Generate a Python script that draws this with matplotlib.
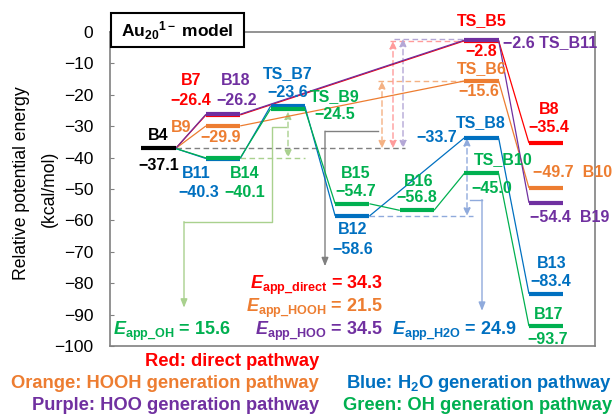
import matplotlib
matplotlib.use("Agg")
import matplotlib.pyplot as plt
from matplotlib.patches import Rectangle

plt.rcParams['font.family'] = ['Liberation Sans', 'DejaVu Sans']
plt.rcParams['mathtext.fontset'] = 'custom'
plt.rcParams['mathtext.rm'] = 'Liberation Sans'
plt.rcParams['mathtext.it'] = 'Liberation Sans:italic'
plt.rcParams['mathtext.bf'] = 'Liberation Sans:bold'
plt.rcParams['mathtext.bfit'] = 'Liberation Sans:bold:italic'

# ---------------- data ----------------
red_names = ['B4', 'B7', 'TS_B5', 'B8']
red_cols = [0, 1, 5, 6]
red_E = [-37.1, -26.4, -2.8, -35.4]

orange_names = ['B4', 'B9', 'TS_B6', 'B10']
orange_cols = [0, 1, 5, 6]
orange_E = [-37.1, -29.9, -15.6, -49.7]

purple_names = ['B4', 'B18', 'TS_B11', 'B19']
purple_cols = [0, 1, 5, 6]
purple_E = [-37.1, -26.2, -2.6, -54.4]

blue_names = ['B4', 'B11', 'TS_B7', 'B12', 'TS_B8', 'B13']
blue_cols = [0, 1, 2, 3, 5, 6]
blue_E = [-37.1, -40.3, -23.6, -58.6, -33.7, -83.4]

green_names = ['B4', 'B14', 'TS_B9', 'B15', 'B16', 'TS_B10', 'B17']
green_cols = [0, 1, 2, 3, 4, 5, 6]
green_E = [-37.1, -40.1, -24.5, -54.7, -56.8, -45.0, -93.7]

yticks = [0, -10, -20, -30, -40, -50, -60, -70, -80, -90, -100]

RED, ORANGE, PURPLE = '#FF0000', '#ED7D31', '#7030A0'
BLUE, GREEN = '#0070C0', '#00B050'
L_RED, L_ORANGE, L_PURPLE = '#FF9B9B', '#F4B183', '#B4A7D6'
L_BLUE, L_GREEN, GRAY = '#8FAADC', '#A9D18E', '#808080'

# ---------------- figure ----------------
W, H = 615, 416
fig = plt.figure(figsize=(W / 100, H / 100), dpi=100)
ax_l, ax_r, ax_t, ax_b = 110, 595, 32, 346
ax = fig.add_axes([ax_l / W, 1 - ax_b / H, (ax_r - ax_l) / W, (ax_b - ax_t) / H])

c0, dc = 158.5, 64.6
ax.set_xlim((ax_l - c0) / dc, (ax_r - c0) / dc)
ax.set_ylim(-100, 0)
hw = 0.265


def px(xp):
    return (xp - c0) / dc


LW_LEVEL, LW_LINK = 3.0, 0.9


def draw_path(cols, E, color, z):
    for i in range(len(cols)):
        if i > 0:
            ax.plot([cols[i - 1] + hw, cols[i] - hw], [E[i - 1], E[i]],
                    color=color, lw=LW_LINK, zorder=z, solid_capstyle='butt')
            ax.plot([cols[i] - hw, cols[i] + hw], [E[i], E[i]],
                    color=color, lw=LW_LEVEL, zorder=z + 0.5, solid_capstyle='butt')


def hdash(x0, x1, y, color):
    ax.plot([x0, x1], [y, y], color=color, lw=1.0, ls=(0, (4, 2.5)), zorder=1)


def vdarrow(x, y0, y1, color):
    ax.annotate('', xy=(x, y1), xytext=(x, y0),
                arrowprops=dict(arrowstyle='<|-|>,head_length=0.45,head_width=0.2',
                                color=color, lw=1.0, ls=(0, (4, 2.5)),
                                shrinkA=0, shrinkB=0), zorder=1)


def elbow(pts, color):
    xs = [p[0] for p in pts]
    ys = [p[1] for p in pts]
    ax.plot(xs[:-1], ys[:-1], color=color, lw=1.0, zorder=1)
    ax.annotate('', xy=pts[-1], xytext=pts[-2],
                arrowprops=dict(arrowstyle='-|>,head_length=0.5,head_width=0.2',
                                color=color, lw=1.0, shrinkA=0, shrinkB=0), zorder=1)


B4 = red_E[0]
hdash(hw, px(405), B4, GRAY)
# OH
hdash(1 + hw, px(305), green_E[1], L_GREEN)
vdarrow(px(288), green_E[2] - 0.8, green_E[1], L_GREEN)
# HOOH
hdash(px(378), 5 - hw, orange_E[2], L_ORANGE)
vdarrow(px(382), orange_E[2], B4, L_ORANGE)
# direct
hdash(px(390), 5 - hw, red_E[2], L_RED)
vdarrow(px(393), red_E[2], B4, L_RED)
# HOO
hdash(px(394), 5 - hw, purple_E[2] + 0.5, L_PURPLE)
vdarrow(px(403), purple_E[2] + 0.5, B4, L_PURPLE)
# H2O
hdash(3 + hw, px(473), blue_E[3], L_BLUE)
vdarrow(px(467), blue_E[4], blue_E[3], L_BLUE)

# elbow connectors to E_app labels
elbow([(px(286), -30.4), (px(272), -30.4), (px(272), -60.4), (px(184), -60.4), (px(184), -87.8)], L_GREEN)
elbow([(px(378), -31.6), (px(325), -31.6), (px(325), -74.6)], GRAY)
elbow([(px(470), -53.4), (px(482), -53.4), (px(482), -88.8)], L_BLUE)

# pathways
draw_path(red_cols, red_E, RED, 2)
draw_path(orange_cols, orange_E, ORANGE, 3)
draw_path(blue_cols, blue_E, BLUE, 4)
draw_path(green_cols, green_E, GREEN, 5)
draw_path(purple_cols, purple_E, PURPLE, 6)
ax.plot([-hw, hw], [B4, B4], color='black', lw=LW_LEVEL, zorder=7, solid_capstyle='butt')

# ---------------- labels ----------------
FS = 11.5


def lab(col, E, txt, color, dx, dy, ha='center'):
    ax.annotate(txt, (col, E), xytext=(dx * 0.72, -dy * 0.72), textcoords='offset points',
                ha=ha, va='center', color=color, fontsize=FS, fontweight='bold', zorder=10)


def v(e):
    return f"\u2212{abs(e):.1f}"


lab(0, B4, 'B4', 'black', 0, -13)
lab(0, B4, v(B4), 'black', 0, 17)
lab(1, red_E[1], 'B7', RED, -31.5, -34.6)
lab(1, red_E[1], v(red_E[1]), RED, -32.5, -14.6)
lab(1, purple_E[1], 'B18', PURPLE, 12.5, -34)
lab(1, purple_E[1], v(purple_E[1]), PURPLE, 13.5, -14)
lab(1, orange_E[1], 'B9', ORANGE, -41.5, 1.4)
lab(1, orange_E[1], v(orange_E[1]), ORANGE, -2.5, 11.4)
lab(1, blue_E[1], 'B11', BLUE, -26.5, 15)
lab(1, blue_E[1], v(blue_E[1]), BLUE, -24.5, 34)
lab(1, green_E[1], 'B14', GREEN, 21.5, 15.5)
lab(1, green_E[1], v(green_E[1]), GREEN, 21.5, 34.5)
lab(2, blue_E[2], 'TS_B7', BLUE, 0, -33)
lab(2, blue_E[2], v(blue_E[2]), BLUE, 0, -14)
lab(2, green_E[2], 'TS_B9', GREEN, 47, -12)
lab(2, green_E[2], v(green_E[2]), GREEN, 47, 6)
lab(3, green_E[3], 'B15', GREEN, 3, -30.7)
lab(3, green_E[3], v(green_E[3]), GREEN, 3, -12.4)
lab(3, blue_E[3], 'B12', BLUE, 0, 13.6)
lab(3, blue_E[3], v(blue_E[3]), BLUE, 0, 33.3)
lab(4, green_E[4], 'B16', GREEN, 2, -29)
lab(4, green_E[4], v(green_E[4]), GREEN, 0, -13)
lab(5, red_E[2], 'TS_B5', RED, 0, -20)
lab(5, red_E[2], v(red_E[2]), RED, 0, 10.5)
lab(5, purple_E[2], v(purple_E[2]) + ' TS_B11', PURPLE, 21.8, 2, ha='left')
lab(5, orange_E[2], 'TS_B6', ORANGE, 0, -12)
lab(5, orange_E[2], v(orange_E[2]), ORANGE, -3, 11)
lab(5, blue_E[4], 'TS_B8', BLUE, -1, -15)
lab(5, blue_E[4], v(blue_E[4]), BLUE, -24.8, 0, ha='right')
lab(5, green_E[5], 'TS_B10', GREEN, 22, -14)
lab(5, green_E[5], v(green_E[5]), GREEN, 10.5, 15.4)
lab(6, red_E[3], 'B8', RED, 3, -34)
lab(6, red_E[3], v(red_E[3]), RED, 3, -15.5)
lab(6, orange_E[3], v(orange_E[3]) + '  B10', ORANGE, -12.7, -15.3, ha='left')
lab(6, purple_E[3], v(purple_E[3]) + '  B19', PURPLE, -16, 14.7, ha='left')
lab(6, blue_E[5], 'B13', BLUE, 6, -30.7)
lab(6, blue_E[5], v(blue_E[5]), BLUE, 5, -12.3)
lab(6, green_E[6], 'B17', GREEN, 3, -11.3)
lab(6, green_E[6], v(green_E[6]), GREEN, 1.5, 13)

# apparent barriers (computed from the energies)
e_direct = red_E[2] - red_E[0]
e_hooh = orange_E[2] - orange_E[0]
e_hoo = purple_E[2] - purple_E[0]
e_oh = green_E[2] - green_E[1]
e_h2o = blue_E[4] - blue_E[3]

EFS = 13


def eapp(x, y, sub, val, color):
    ax.text(x, y, r'$\mathbfit{E}_{\mathbf{app\_' + sub + r'}}$ = ' + f'{val:.1f}',
            ha='right', va='center', color=color, fontsize=EFS, fontweight='bold', zorder=10)


eapp(px(383), -80.8, 'direct', e_direct, RED)
eapp(px(383), -87.9, 'HOOH', e_hooh, ORANGE)
eapp(px(383), -95.2, 'HOO', e_hoo, PURPLE)
eapp(px(231), -95.2, 'OH', e_oh, GREEN)
eapp(px(517), -95.2, 'H2O', e_h2o, BLUE)

# ---------------- axes styling ----------------
ax.set_xticks([])
ax.set_yticks(yticks)
ax.set_yticklabels([f"{t}" if t == 0 else f"\u2212{abs(t)}" for t in yticks])
ax.tick_params(axis='y', direction='in', length=3, color=GRAY, labelsize=12.5, pad=12)
for s in ax.spines.values():
    s.set_color(GRAY)
    s.set_linewidth(1.2)

# y-axis title (two lines)
fig.text(22 / W, 1 - 183 / H, 'Relative potential energy', rotation=90, ha='center', va='center',
         fontsize=12.7)
fig.text(49 / W, 1 - 189 / H, '(kcal/mol)', rotation=90, ha='center', va='center', fontsize=12.7)

# title box
fig.add_artist(Rectangle((111 / W, 1 - 47 / H), 133 / W, 34 / H, transform=fig.transFigure,
                         facecolor='white', edgecolor='black', lw=1.5, zorder=20))
fig.text(177 / W, 1 - 31 / H, r'Au$_{\mathbf{20}}$$^{\mathbf{1-}}$ model', ha='center', va='center',
         fontsize=12.5, fontweight='bold', zorder=21)

# bottom legend text
LFS = 13.2
fig.text(319 / W, 1 - 362 / H, 'Red: direct pathway', color=RED, ha='right', va='center',
         fontsize=LFS, fontweight='bold')
fig.text(319 / W, 1 - 383 / H, 'Orange: HOOH generation pathway', color=ORANGE, ha='right',
         va='center', fontsize=LFS, fontweight='bold')
fig.text(319 / W, 1 - 406 / H, 'Purple: HOO generation pathway', color=PURPLE, ha='right',
         va='center', fontsize=LFS, fontweight='bold')
fig.text(612 / W, 1 - 383 / H, r'Blue: H$_{\mathbf{2}}$O generation pathway', color=BLUE,
         ha='right', va='center', fontsize=LFS, fontweight='bold')
fig.text(612 / W, 1 - 406 / H, 'Green: OH generation pathway', color=GREEN, ha='right',
         va='center', fontsize=LFS, fontweight='bold')

fig.savefig('out.png', dpi=100)
